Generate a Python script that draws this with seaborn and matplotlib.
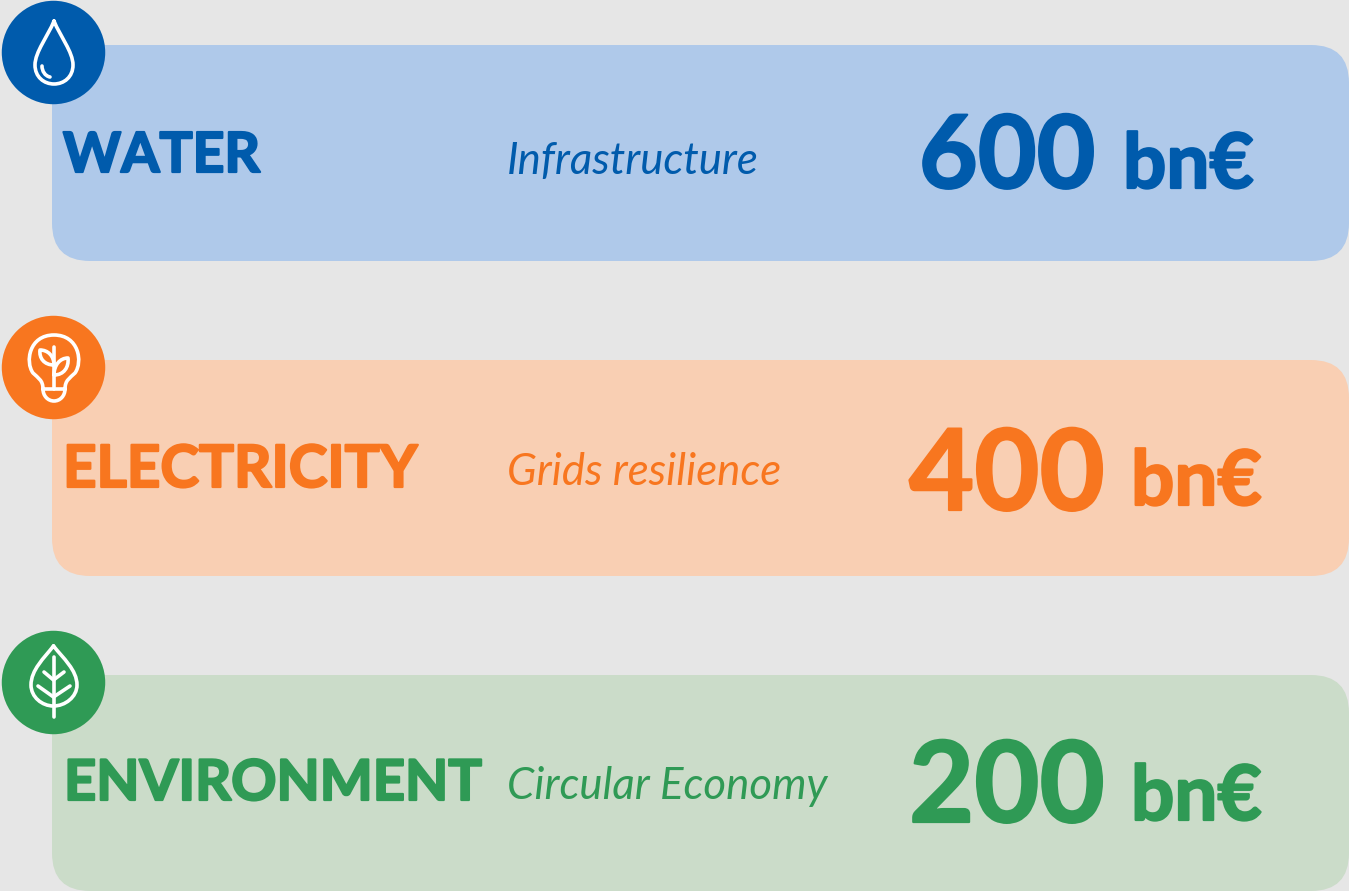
import matplotlib
matplotlib.use("Agg")
import matplotlib.pyplot as plt
from matplotlib.patches import FancyBboxPatch, PathPatch
from matplotlib.path import Path
import matplotlib.patheffects as pe
import pandas as pd
import seaborn as sns

sectors = ["WATER", "ELECTRICITY", "ENVIRONMENT"]
topics = ["Infrastructure", "Grids resilience", "Circular Economy"]
amounts = [600, 400, 200]
unit = "bn€"
dark = ["#005BAC", "#F8761F", "#2F9A55"]
light = ["#AFC9EA", "#F9CFB3", "#CBDCC9"]
BG = "#E6E6E6"
ROW_STEP = 315

sns.set_theme(style="white")
plt.rcParams["font.family"] = ["Lato", "DejaVu Sans"]

fig = plt.figure(figsize=(13.49, 8.91), dpi=100, facecolor=BG)
ax = fig.add_axes([0, 0, 1, 1])
ax.set_xlim(0, 1349)
ax.set_ylim(891, 0)
ax.axis("off")


def stroke(verts, codes, color="white", lw=2.6):
    ax.add_patch(PathPatch(Path(verts, codes), fc="none", ec=color, lw=lw,
                           capstyle="round", joinstyle="round", zorder=5))


def seg(*pts):
    return list(pts), [Path.MOVETO] + [Path.LINETO] * (len(pts) - 1)


def drop_icon():
    M, C = Path.MOVETO, Path.CURVE4
    stroke([(54, 21), (48, 36), (35, 52), (35, 65),
            (35, 77), (44, 84), (54, 84),
            (64, 84), (73, 77), (73, 65),
            (73, 52), (60, 36), (54, 21)],
           [M] + [C] * 12)
    stroke([(42, 66), (42, 71), (45, 76), (50, 77)], [M, C, C, C])


def bulb_icon():
    y = ROW_STEP
    M, C, L = Path.MOVETO, Path.CURVE4, Path.LINETO
    stroke([(43, 389), (43, 380), (38, 378), (33, 373),
            (25, 362), (29, 335), (54, 335),
            (79, 335), (83, 362), (75, 373),
            (70, 378), (65, 380), (65, 389),
            (65, 396), (60, 401), (54, 401),
            (48, 401), (43, 396), (43, 389), (65, 389)],
           [M] + [C] * 18 + [L])
    stroke(*seg((54, y + 32), (54, 389)))
    stroke([(54, 365), (44, 365), (39, 358), (40, 350),
            (48, 350), (54, 356), (54, 365)],
           [M, C, C, C, C, C, C])
    stroke([(54, 375), (64, 375), (69, 367), (68, 358),
            (60, 358), (54, 365), (54, 375)],
           [M, C, C, C, C, C, C])


def leaf_icon():
    M, C = Path.MOVETO, Path.CURVE4
    stroke([(53.5, 646), (44, 658), (31, 670), (31, 685),
            (31, 697), (42, 706), (53.5, 706),
            (65, 706), (77, 697), (77, 685),
            (77, 670), (63, 658), (53.5, 646)],
           [M] + [C] * 12)
    stroke(*seg((53.5, 657), (53.5, 717)))
    stroke(*seg((44, 672), (53.5, 680), (64, 672)))
    stroke(*seg((38, 686), (53.5, 697), (70, 686)))


for i, c in enumerate(light):
    top = 45 + i * ROW_STEP
    ax.add_patch(FancyBboxPatch((52, top), 1349 - 52, 216,
                                boxstyle="round,pad=0,rounding_size=38",
                                fc=c, ec="none", zorder=1))

badges = pd.DataFrame({"sector": sectors, "row": range(3)})
badges["x"] = 53.5
badges["y"] = badges["row"] * ROW_STEP + 52.5
sns.scatterplot(data=badges, x="x", y="y", hue="sector", palette=dark,
                s=5550, linewidth=0, legend=False, ax=ax, zorder=3)
ax.set_xlabel("")
ax.set_ylabel("")

drop_icon()
bulb_icon()
leaf_icon()

name_pos = [(63, 172), (63, 487), (64, 800)]
name_size = [39.8, 42, 40.4]
topic_y = [174, 485, 799]
num_pos = [(919, 188), (909, 510), (909, 822)]
num_size = [73, 81, 81]
unit_pos = [(1123, 188), (1131, 505), (1131, 820)]
for i in range(3):
    c = dark[i]
    heavy = [pe.withStroke(linewidth=1.6, foreground=c)]
    ax.text(*name_pos[i], sectors[i], color=c, fontsize=name_size[i],
            fontweight="bold", ha="left", va="baseline", zorder=6,
            path_effects=heavy)
    ax.text(507, topic_y[i], topics[i], color=c, fontsize=31.5, style="italic",
            ha="left", va="baseline", zorder=6)
    ax.text(*num_pos[i], str(amounts[i]), color=c, fontsize=num_size[i],
            fontweight="bold", ha="left", va="baseline", zorder=6,
            path_effects=heavy)
    ax.text(*unit_pos[i], unit, color=c, fontsize=55, fontweight="bold",
            ha="left", va="baseline", zorder=6, path_effects=heavy)

fig.savefig("out.png", dpi=100, facecolor=BG)
